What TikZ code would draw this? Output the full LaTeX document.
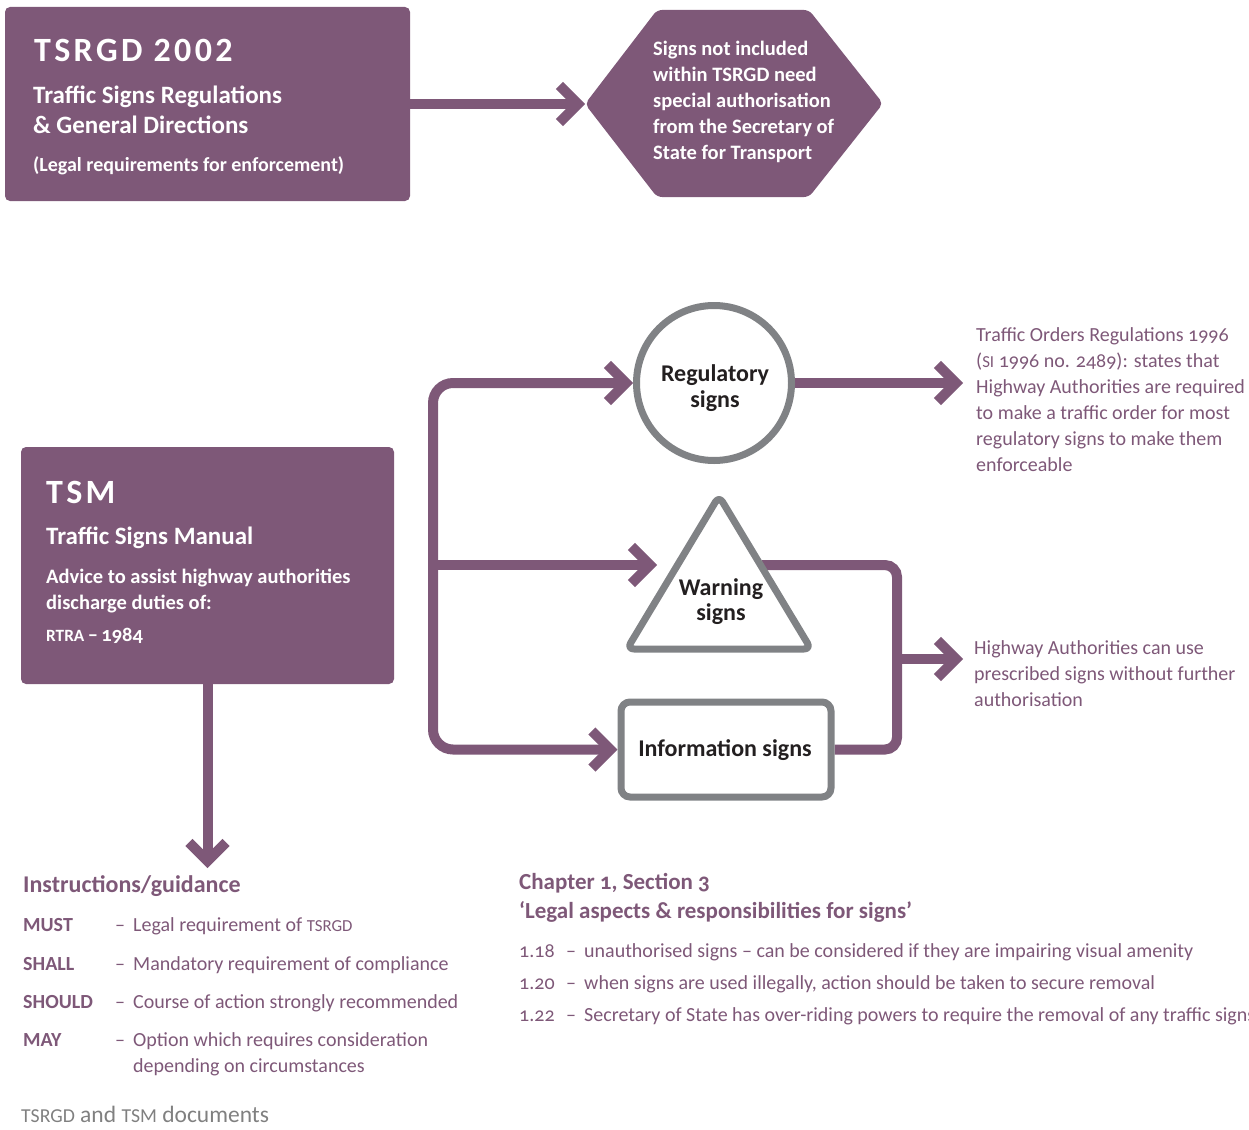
\documentclass[tikz,border=0pt]{standalone}
\usepackage{fontspec}
\setmainfont{Carlito}[Numbers=OldStyle]
\usetikzlibrary{arrows.meta}

\definecolor{plum}{RGB}{126,88,120}
\definecolor{sgray}{RGB}{128,130,133}
\definecolor{ink}{RGB}{35,31,32}
\definecolor{foot}{RGB}{128,128,128}

% font size shortcut
\newcommand\fs[2]{\fontsize{#1}{#2}\selectfont}
% small capitals made from scaled capitals
\makeatletter
\newcommand\fsc[1]{{\fontsize{\fpeval{0.84*\f@size}}{\f@baselineskip}\selectfont #1}}
\makeatother
% stacked lines whose baseline is the first line
\newcommand\linesL[1]{\vtop{\halign{##\hfil\cr#1\crcr}}}
\newcommand\linesC[1]{\vtop{\halign{\hfil##\hfil\cr#1\crcr}}}

\pgfdeclarelayer{back}
\pgfsetlayers{back,main}

\tikzset{
  chev/.tip={Straight Barb[sharp,length=18.5pt,width=37pt]},
  pbox/.style={fill=plum, rounded corners=5pt, inner sep=0pt},
  conn/.style={draw=plum, line width=10pt},
  sign/.style={draw=sgray, line width=7pt, fill=white, inner sep=0pt},
  lbl/.style={anchor=base, inner sep=0pt, text=ink, font=\fs{24}{26}\bfseries},
  wtxt/.style={anchor=base west, inner sep=0pt, text=white},
  ptxt/.style={anchor=base west, inner sep=0pt, text=plum},
}

\begin{document}
\begin{tikzpicture}[x=1pt, y=-1pt]
\path[use as bounding box] (0,0) rectangle (1249,1129);

% ---- TSRGD block ----
\node[pbox, minimum width=405pt, minimum height=194pt] (tsrgd) at (207.5,104) {};
\node[wtxt, font=\fs{34}{38}\bfseries\addfontfeature{LetterSpace=10,Numbers=Lining}] (tsrgdTitle) at (34,62) {TSRGD 2002};
\node[wtxt, font=\fs{25}{29}\bfseries] (tsrgdName) at (33,104) {\linesL{Traffic Signs Regulations\cr \& General Directions}};
\node[wtxt, font=\fs{20}{24}\bfseries] (tsrgdNote) at (33,171) {(Legal requirements for enforcement)};

% ---- special authorisation hexagon ----
\coordinate (hexL) at (585,104);
\path[fill=plum, rounded corners=5pt] (733,10) -- (809,10) -- (883,103.5) -- (809,197) -- (657,197) -- (hexL) -- (657,10) -- cycle;
\node[wtxt, font=\fs{20.5}{26}\bfseries] (hexText) at (653,56) {\linesL{Signs not included\cr within TSRGD need\cr special authorisation\cr from the Secretary of\cr State for Transport}};

% ---- TSM block ----
\node[pbox, minimum width=373pt, minimum height=237pt] (tsm) at (207.5,565.5) {};
\node[wtxt, font=\fs{34}{38}\bfseries\addfontfeature{LetterSpace=10}] (tsmTitle) at (46,503) {TSM};
\node[wtxt, font=\fs{25}{29}\bfseries] (tsmName) at (46,544) {Traffic Signs Manual};
\node[wtxt, font=\fs{20.5}{26}\bfseries] (tsmAdvice) at (46,583) {\linesL{Advice to assist highway authorities\cr discharge duties of:}};
\node[wtxt, font=\fs{20.5}{26}\bfseries] (tsmAct) at (46,641) {\fsc{RTRA}\,–\,1984};

% ---- sign types ----
\node[sign, circle, minimum size=155pt] (reg) at (714,383) {};
\node[lbl] (regText) at (715,381) {\linesC{Regulatory\cr signs}};

\path[draw=sgray, line width=7pt, fill=white, rounded corners=7pt, line join=round]
  (719,649) -- (811,649) -- (719,496) -- (627,649) -- cycle;
\node[lbl, font=\fs{24}{25}\bfseries] (warnText) at (721,595) {\linesC{Warning\cr signs}};
\coordinate (warnIn) at (657,565);
\coordinate (warnOut) at (762,565);

\node[sign, rounded corners=9pt, minimum width=210pt, minimum height=95pt] (info) at (726,749.5) {};
\node[lbl] (infoText) at (725,756) {Information signs};

% ---- notes on the right ----
\node[ptxt, font=\fs{20}{26}] (orderNote) at (976,341) {\linesL{Traffic Orders Regulations 1996\cr (\fsc{SI} 1996 no. 2489): states that\cr Highway Authorities are required\cr to make a traffic order for most\cr regulatory signs to make them\cr enforceable}};
\node[ptxt, font=\fs{20}{26}] (usageNote) at (974,654) {\linesL{Highway Authorities can use\cr prescribed signs without further\cr authorisation}};

% ---- connector junctions ----
\coordinate (spine) at (433,0);
\coordinate (joint) at (897,659);
\coordinate (regOut) at (963,383);
\coordinate (usageIn) at (963,659);
\coordinate (tsmOut) at (207.5,868);

\begin{pgfonlayer}{back}
  \draw[conn, -{chev}] (tsrgd.east) -- (hexL);
  \draw[conn, rounded corners=20pt, {chev}-{chev}] (reg.west) -| (spine |- info.west) -- (info.west);
  \draw[conn, -{chev}] (spine |- warnIn) -- (warnIn);
  \draw[conn, -{chev}] (reg.east) -- (regOut);
  \draw[conn, rounded corners=12pt] (warnOut) -| (joint |- info.east) -- (info.east);
  \draw[conn, -{chev}] (joint) -- (usageIn);
  \draw[conn, -{chev}] (tsm.south) -- (tsmOut);
\end{pgfonlayer}

% ---- instructions / guidance ----
\node[ptxt, font=\fs{24}{28}\bfseries] (guideHead) at (23,892) {Instructions/guidance};
\node[ptxt, font=\fs{20}{26}\bfseries] (mustKey) at (23,931) {MUST};
\node[ptxt, font=\fs{20}{26}] (mustDash) at (115,931) {–};
\node[ptxt, font=\fs{20}{26}] (mustText) at (133,931) {Legal requirement of \fsc{TSRGD}};
\node[ptxt, font=\fs{20}{26}\bfseries] (shallKey) at (23,970) {SHALL};
\node[ptxt, font=\fs{20}{26}] (shallDash) at (115,970) {–};
\node[ptxt, font=\fs{20}{26}] (shallText) at (133,970) {Mandatory requirement of compliance};
\node[ptxt, font=\fs{20}{26}\bfseries] (shouldKey) at (23,1008) {SHOULD};
\node[ptxt, font=\fs{20}{26}] (shouldDash) at (115,1008) {–};
\node[ptxt, font=\fs{20}{26}] (shouldText) at (133,1008) {Course of action strongly recommended};
\node[ptxt, font=\fs{20}{26}\bfseries] (mayKey) at (23,1046) {MAY};
\node[ptxt, font=\fs{20}{26}] (mayDash) at (115,1046) {–};
\node[ptxt, font=\fs{20}{26}] (mayText) at (133,1046) {\linesL{Option which requires consideration\cr depending on circumstances}};

\node[anchor=base west, inner sep=0pt, text=foot, font=\fs{23.5}{27}] (footer) at (21,1122) {\fsc{TSRGD} and \fsc{TSM} documents};

% ---- chapter reference ----
\node[ptxt, font=\fs{23}{29}\bfseries] (chapHead) at (519,889) {\linesL{Chapter 1, Section 3\cr ‘Legal aspects \& responsibilities for signs’}};
\node[ptxt, font=\fs{20}{26}] (itemA) at (519,957) {1.18};
\node[ptxt, font=\fs{20}{26}] (dashA) at (566,957) {–};
\node[ptxt, font=\fs{20}{26}] (textA) at (584,957) {unauthorised signs – can be considered if they are impairing visual amenity};
\node[ptxt, font=\fs{20}{26}] (itemB) at (519,989) {1.20};
\node[ptxt, font=\fs{20}{26}] (dashB) at (566,989) {–};
\node[ptxt, font=\fs{20}{26}] (textB) at (584,989) {when signs are used illegally, action should be taken to secure removal};
\node[ptxt, font=\fs{20}{26}] (itemC) at (519,1021) {1.22};
\node[ptxt, font=\fs{20}{26}] (dashC) at (566,1021) {–};
\node[ptxt, font=\fs{20}{26}] (textC) at (584,1021) {Secretary of State has over-riding powers to require the removal of any traffic signs};
\end{tikzpicture}
\end{document}
